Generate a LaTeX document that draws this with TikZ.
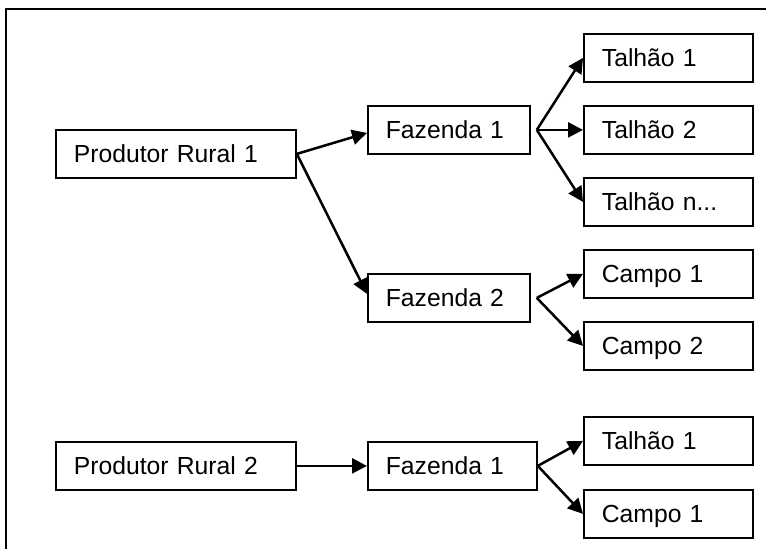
\documentclass[tikz,border=0pt]{standalone}
\usepackage{fontspec}
\setmainfont{Liberation Sans}
\usetikzlibrary{arrows.meta}
\tikzset{
  box/.style={draw, line width=1.8pt, rectangle, anchor=north west,
    minimum height=48pt, inner xsep=18pt, inner ysep=4pt,
    text height=17.7pt, text depth=0pt, align=left,
    font=\fontsize{24.7}{28}\selectfont},
  conn/.style={line width=2.5pt, -{Triangle[length=15pt,width=15pt]}},
  frame/.style={line width=2pt}
}
\begin{document}
\begin{tikzpicture}[x=1pt,y=1pt]
\useasboundingbox (0,0) rectangle (766,-549);
\coordinate (fa) at (6,-549);
\coordinate (fb) at (6,-9);
\coordinate (fc) at (766,-9);
\draw[frame] (fa) -- (fb) -- (fc);

\node[box, text width=204pt] (pr1) at (55,-129) {Produtor Rural 1};
\node[box, text width=126pt] (f1) at (367,-105) {Fazenda 1};
\node[box, text width=133pt] (t1) at (583,-33) {Talhão 1};
\node[box, text width=133pt] (t2) at (583,-105) {Talhão 2};
\node[box, text width=133pt] (tn) at (583,-177) {Talhão n...};
\node[box, text width=126pt] (f2) at (367,-273) {Fazenda 2};
\node[box, text width=133pt] (c1) at (583,-249) {Campo 1};
\node[box, text width=133pt] (c2) at (583,-321) {Campo 2};
\node[box, text width=204pt] (pr2) at (55,-441) {Produtor Rural 2};
\node[box, text width=133pt] (f3) at (367,-441) {Fazenda 1};
\node[box, text width=133pt] (t3) at (583,-416) {Talhão 1};
\node[box, text width=133pt] (c3) at (583,-489) {Campo 1};

\coordinate (f1o) at ([xshift=6pt]f1.east);
\coordinate (f2o) at ([xshift=6pt]f2.east);

\draw[conn] (pr1.east) -- ([yshift=-3pt]f1.west);
\draw[conn] (pr1.east) -- ([yshift=4pt]f2.west);
\draw[conn] (f1o) -- (t1.west);
\draw[conn] (f1o) -- (t2.west);
\draw[conn] (f1o) -- (tn.west);
\draw[conn] (f2o) -- (c1.west);
\draw[conn] (f2o) -- (c2.west);
\draw[conn] (pr2.east) -- (f3.west);
\draw[conn] (f3.east) -- (t3.west);
\draw[conn] (f3.east) -- (c3.west);
\end{tikzpicture}
\end{document}
